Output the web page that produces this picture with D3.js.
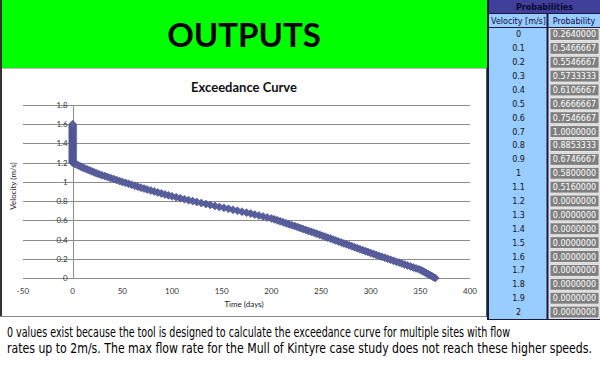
<!DOCTYPE html>
<html>
<head>
<meta charset="utf-8">
<script src="https://cdn.jsdelivr.net/npm/d3@7"></script>
<style>
  body { margin: 0; background: #fff; }
  svg { display: block; }
</style>
</head>
<body>
<div id="chart"></div>
<script>
// exceedance curve: velocity (m/s) vs days exceeded
var velocities = [0.00,0.01,0.02,0.03,0.04,0.05,0.06,0.07,0.08,0.09,
  0.10,0.11,0.12,0.13,0.14,0.15,0.16,0.17,0.18,0.19,
  0.20,0.21,0.22,0.23,0.24,0.25,0.26,0.27,0.28,0.29,
  0.30,0.31,0.32,0.33,0.34,0.35,0.36,0.37,0.38,0.39,
  0.40,0.41,0.42,0.43,0.44,0.45,0.46,0.47,0.48,0.49,
  0.50,0.51,0.52,0.53,0.54,0.55,0.56,0.57,0.58,0.59,
  0.60,0.61,0.62,0.63,0.64,0.65,0.66,0.67,0.68,0.69,
  0.70,0.71,0.72,0.73,0.74,0.75,0.76,0.77,0.78,0.79,
  0.80,0.81,0.82,0.83,0.84,0.85,0.86,0.87,0.88,0.89,
  0.90,0.91,0.92,0.93,0.94,0.95,0.96,0.97,0.98,0.99,
  1.00,1.01,1.02,1.03,1.04,1.05,1.06,1.07,1.08,1.09,
  1.10,1.11,1.12,1.13,1.14,1.15,1.16,1.17,1.18,1.19,
  1.20,1.21,1.22,1.23,1.24,1.25,1.26,1.27,1.28,1.29,
  1.30,1.31,1.32,1.33,1.34,1.35,1.36,1.37,1.38,1.39,
  1.40,1.41,1.42,1.43,1.44,1.45,1.46,1.47,1.48,1.49,
  1.50,1.51,1.52,1.53,1.54,1.55,1.56,1.57,1.58,1.59,1.60]
var days = [365,363,361.5,359.7,357.9,356.2,354.4,352.6,350.9,348.6,
  345.7,342.9,340,337.1,334.3,331.4,328.6,325.7,322.9,320,
  317.1,314.3,311.4,308.6,305.7,302.9,300,297.3,294.6,291.9,
  289.2,286.5,283.8,281.1,278.4,275.7,273,270.3,267.6,264.9,
  262.2,259.5,256.8,254.1,251.4,248.6,245.8,243.1,240.3,237.5,
  234.7,231.9,229.2,226.4,223.5,220.6,217.6,214.7,211.8,208.8,
  205.9,202.9,200,195.8,191.7,187.5,183.3,179.2,175,170.5,
  165.9,161.4,156.8,152.3,147.7,143.2,138.6,134.1,129.5,125,
  120.8,116.7,112.5,108.3,104.2,100,96.4,92.9,89.3,85.7,
  82.1,78.6,75,71.9,68.8,65.6,62.5,59.4,56.3,53.1,
  50,47.1,44.1,41.2,38.2,35.3,32.4,29.4,26.5,23.8,
  21.5,19.2,16.9,14.6,12.3,10,8,6,4,2,
  0,0,0,0,0,0,0,0,0,0,
  0,0,0,0,0,0,0,0,0,0,
  0,0,0,0,0,0,0,0,0,0,
  0,0,0,0,0,0,0,0,0,0,0]

var xTicks = [-50,0,50,100,150,200,250,300,350,400]
var yTicks = [0,0.2,0.4,0.6,0.8,1,1.2,1.4,1.6,1.8]

// table on the right
var tableVel = ['0','0.1','0.2','0.3','0.4','0.5','0.6','0.7','0.8','0.9','1','1.1','1.2','1.3','1.4','1.5','1.6','1.7','1.8','1.9','2']
var tableProb = [0.2640000,0.5466667,0.5546667,0.5733333,0.6106667,0.6666667,0.7546667,1.0000000,0.8853333,0.6746667,0.5800000,0.5160000,0,0,0,0,0,0,0,0,0]

var noteLines = ['0 values exist because the tool is designed to calculate the exceedance curve for multiple sites with flow',
  'rates up to 2m/s.  The max flow rate for the Mull of Kintyre case study does not reach these higher speeds.']

var width = 600, height = 380

var svg = d3.select('#chart').append('svg').attr('width', width).attr('height', height)
svg.append('rect').attr('width', width).attr('height', height).attr('fill', '#fff')

// green header
svg.append('rect').attr('x', 0).attr('y', 0).attr('width', 488).attr('height', 68).attr('fill', '#00ff00')
svg.append('line').attr('x1', 0).attr('x2', 488).attr('y1', 68.5).attr('y2', 68.5).attr('stroke', '#c8b4c8')
svg.append('text').attr('x', 244).attr('y', 47).attr('text-anchor', 'middle')
  .attr('font-family', 'Lato, "Open Sans", sans-serif').attr('font-weight', 'bold').attr('font-size', 33)
  .text('OUTPUTS')

// chart panel
svg.append('line').attr('x1', 1).attr('x2', 1).attr('y1', 0).attr('y2', 317).attr('stroke', '#333').attr('stroke-width', 2)
svg.append('line').attr('x1', 0).attr('x2', 488).attr('y1', 316.5).attr('y2', 316.5).attr('stroke', '#888')
svg.append('line').attr('x1', 486.5).attr('x2', 486.5).attr('y1', 68).attr('y2', 317).attr('stroke', '#555')

var x = d3.scaleLinear().domain([-50, 400]).range([23, 470])
var y = d3.scaleLinear().domain([0, 1.8]).range([278, 105])

var g = svg.append('g')
g.selectAll('.grid').data(yTicks).join('line').attr('class', 'grid')
  .attr('x1', x(-50)).attr('x2', x(400))
  .attr('y1', d => Math.round(y(d)) + 0.5).attr('y2', d => Math.round(y(d)) + 0.5)
  .attr('stroke', '#8c8c8c')
g.append('line').attr('x1', Math.round(x(0)) + 0.5).attr('x2', Math.round(x(0)) + 0.5)
  .attr('y1', y(1.8)).attr('y2', y(0)).attr('stroke', '#8c8c8c')

var tickFont = 'Lato, "Liberation Sans", sans-serif'
g.selectAll('.ylab').data(yTicks).join('text').attr('class', 'ylab')
  .attr('x', x(0) - 5).attr('y', d => y(d) + 3).attr('text-anchor', 'end')
  .attr('font-family', tickFont).attr('font-size', 8).attr('fill', '#333')
  .text(d => d)
g.selectAll('.xlab').data(xTicks).join('text').attr('class', 'xlab')
  .attr('x', d => x(d)).attr('y', 294).attr('text-anchor', 'middle')
  .attr('font-family', tickFont).attr('font-size', 8).attr('fill', '#333')
  .text(d => d)

svg.append('text').attr('x', 244).attr('y', 92).attr('text-anchor', 'middle')
  .attr('font-family', tickFont).attr('font-weight', 'bold').attr('font-size', 13).attr('fill', '#111')
  .text('Exceedance Curve')
svg.append('text').attr('x', 244).attr('y', 307).attr('text-anchor', 'middle')
  .attr('font-family', tickFont).attr('font-size', 8).attr('fill', '#222')
  .text('Time (days)')
svg.append('text').attr('transform', 'translate(16,186) rotate(-90)').attr('text-anchor', 'middle')
  .attr('font-family', tickFont).attr('font-size', 8).attr('fill', '#222')
  .text('Velocity (m/s)')

// diamond markers
var pts = velocities.map((v, i) => ({v: v, t: days[i]}))
g.selectAll('.pt').data(pts).join('path').attr('class', 'pt')
  .attr('transform', d => 'translate(' + x(d.t) + ',' + y(d.v) + ')')
  .attr('d', 'M0,-4L4,0L0,4L-4,0Z')
  .attr('fill', '#5a5f9e').attr('stroke', '#4a4f8c').attr('stroke-width', 0.6)

// probabilities table
var tx = 489, tw = 111, colX = 548
var rowY = d3.scaleLinear().domain([0, 21]).range([27.5, 319])
var tbl = svg.append('g')
tbl.append('rect').attr('x', 487).attr('y', 0).attr('width', 2).attr('height', 320).attr('fill', '#1a1a40')
tbl.append('rect').attr('x', tx).attr('y', 0).attr('width', tw).attr('height', 13).attr('fill', '#40409a')
tbl.append('text').attr('x', tx + tw / 2).attr('y', 10).attr('text-anchor', 'middle')
  .attr('font-family', 'Tahoma, "DejaVu Sans", sans-serif').attr('font-size', 8).attr('fill', '#0a0a30').attr('font-weight', 'bold')
  .text('Probabilities')
tbl.append('rect').attr('x', tx).attr('y', 13).attr('width', tw).attr('height', 307).attr('fill', '#99ccff')
tbl.append('rect').attr('x', colX).attr('y', 27.5).attr('width', 600 - colX).attr('height', 292).attr('fill', '#d9d9d9')
tbl.append('line').attr('x1', tx).attr('x2', 600).attr('y1', 13.5).attr('y2', 13.5).attr('stroke', '#1a1a40')
tbl.append('line').attr('x1', tx).attr('x2', 600).attr('y1', 27.5).attr('y2', 27.5).attr('stroke', '#1a1a40')
tbl.append('line').attr('x1', colX - 0.5).attr('x2', colX - 0.5).attr('y1', 13).attr('y2', 320).attr('stroke', '#1a1a40').attr('stroke-width', 2)
tbl.append('line').attr('x1', tx).attr('x2', 600).attr('y1', 319.5).attr('y2', 319.5).attr('stroke', '#1a1a40')
var hdrFont = 'Tahoma, "DejaVu Sans", sans-serif'
tbl.append('text').attr('x', (tx + colX) / 2).attr('y', 24).attr('text-anchor', 'middle')
  .attr('font-family', hdrFont).attr('font-size', 8).attr('fill', '#0a0a40').text('Velocity [m/s]')
tbl.append('text').attr('x', (colX + 600) / 2).attr('y', 24).attr('text-anchor', 'middle')
  .attr('font-family', hdrFont).attr('font-size', 8).attr('fill', '#0a0a40').text('Probability')

tbl.selectAll('.vel').data(tableVel).join('text').attr('class', 'vel')
  .attr('x', (tx + colX) / 2).attr('y', (d, i) => rowY(i + 0.5) + 3).attr('text-anchor', 'middle')
  .attr('font-family', hdrFont).attr('font-size', 8).attr('fill', '#111').text(d => d)
tbl.selectAll('.pbox').data(tableProb).join('rect').attr('class', 'pbox')
  .attr('x', colX + 2).attr('y', (d, i) => rowY(i) + 1).attr('width', 600 - colX - 3)
  .attr('height', (d, i) => rowY(i + 1) - rowY(i) - 2)
  .attr('fill', '#7f7f7f').attr('stroke', '#f2f2f2').attr('stroke-width', 0.8)
tbl.selectAll('.pval').data(tableProb).join('text').attr('class', 'pval')
  .attr('x', (colX + 601) / 2).attr('y', (d, i) => rowY(i + 0.5) + 3).attr('text-anchor', 'middle')
  .attr('font-family', hdrFont).attr('font-size', 8).attr('fill', '#fff').text(d => d.toFixed(7))

// note at the bottom, condensed font stretched a little vertically
svg.selectAll('.note').data(noteLines).join('text').attr('class', 'note')
  .attr('transform', (d, i) => 'translate(7,' + (337 + i * 16) + ') scale(1,1.15)')
  .attr('font-family', '"DejaVu Sans Condensed", "Liberation Sans Narrow", sans-serif').attr('font-size', 11.5)
  .attr('textLength', (d, i) => i == 0 ? 503 : 585).attr('lengthAdjust', 'spacingAndGlyphs')
  .attr('fill', '#000').text(d => d)
</script>
</body>
</html>
